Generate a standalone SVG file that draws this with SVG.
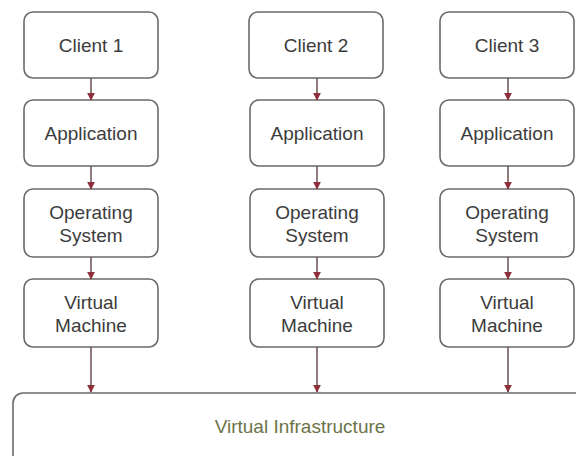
<svg xmlns="http://www.w3.org/2000/svg" width="576" height="456" viewBox="0 0 576 456">
  <style>
    .box { fill: #ffffff; stroke: #6a6a6a; stroke-width: 1.6; }
    .lbl { font-family: "Liberation Sans", Arial, sans-serif; font-size: 19px; fill: #3c3c3c; text-anchor: middle; }
    .infra { fill: #6b7447; }
    .edge { stroke: #6a5050; stroke-width: 1.5; fill: none; marker-end: url(#head); }
  </style>
  <defs>
    <marker id="head" viewBox="0 0 10 10" refX="9" refY="5" markerUnits="userSpaceOnUse" markerWidth="8" markerHeight="8" orient="auto">
      <path d="M0,0 L10,5 L0,10 Z" fill="#8e2f3c"/>
    </marker>
  </defs>
  <rect width="576" height="456" fill="#ffffff"/>

  <!-- column 1 -->
  <g id="client1"><rect class="box" x="24" y="12" width="134" height="66" rx="9"/><text class="lbl" x="91" y="52">Client 1</text></g>
  <g id="app1"><rect class="box" x="24" y="100" width="134" height="66" rx="9"/><text class="lbl" x="91" y="140">Application</text></g>
  <g id="os1"><rect class="box" x="24" y="189" width="134" height="68" rx="9"/><text class="lbl" x="91" y="218.5">Operating</text><text class="lbl" x="91" y="242">System</text></g>
  <g id="vm1"><rect class="box" x="24" y="279" width="134" height="68" rx="9"/><text class="lbl" x="91" y="309">Virtual</text><text class="lbl" x="91" y="332">Machine</text></g>

  <!-- column 2 -->
  <g id="client2"><rect class="box" x="249" y="12" width="134" height="66" rx="9"/><text class="lbl" x="316" y="52">Client 2</text></g>
  <g id="app2"><rect class="box" x="250" y="100" width="134" height="66" rx="9"/><text class="lbl" x="317" y="140">Application</text></g>
  <g id="os2"><rect class="box" x="250" y="189" width="134" height="68" rx="9"/><text class="lbl" x="317" y="218.5">Operating</text><text class="lbl" x="317" y="242">System</text></g>
  <g id="vm2"><rect class="box" x="250" y="279" width="134" height="68" rx="9"/><text class="lbl" x="317" y="309">Virtual</text><text class="lbl" x="317" y="332">Machine</text></g>

  <!-- column 3 -->
  <g id="client3"><rect class="box" x="440" y="12" width="134" height="66" rx="9"/><text class="lbl" x="507" y="52">Client 3</text></g>
  <g id="app3"><rect class="box" x="440" y="100" width="134" height="66" rx="9"/><text class="lbl" x="507" y="140">Application</text></g>
  <g id="os3"><rect class="box" x="440" y="189" width="134" height="68" rx="9"/><text class="lbl" x="507" y="218.5">Operating</text><text class="lbl" x="507" y="242">System</text></g>
  <g id="vm3"><rect class="box" x="440" y="279" width="134" height="68" rx="9"/><text class="lbl" x="507" y="309">Virtual</text><text class="lbl" x="507" y="332">Machine</text></g>

  <!-- shared layer -->
  <g id="infrastructure"><rect class="box" x="13" y="393" width="620" height="120" rx="10"/><text class="lbl infra" x="300" y="433">Virtual Infrastructure</text></g>

  <g id="connectors">
    <line class="edge" x1="91" y1="78" x2="91" y2="100"/>
    <line class="edge" x1="91" y1="166" x2="91" y2="189"/>
    <line class="edge" x1="91" y1="257" x2="91" y2="279"/>
    <line class="edge" x1="91" y1="347" x2="91" y2="392"/>
    <line class="edge" x1="317" y1="78" x2="317" y2="100"/>
    <line class="edge" x1="317" y1="166" x2="317" y2="189"/>
    <line class="edge" x1="317" y1="257" x2="317" y2="279"/>
    <line class="edge" x1="317" y1="347" x2="317" y2="392"/>
    <line class="edge" x1="508" y1="78" x2="508" y2="100"/>
    <line class="edge" x1="508" y1="166" x2="508" y2="189"/>
    <line class="edge" x1="508" y1="257" x2="508" y2="279"/>
    <line class="edge" x1="508" y1="347" x2="508" y2="392"/>
  </g>
</svg>
